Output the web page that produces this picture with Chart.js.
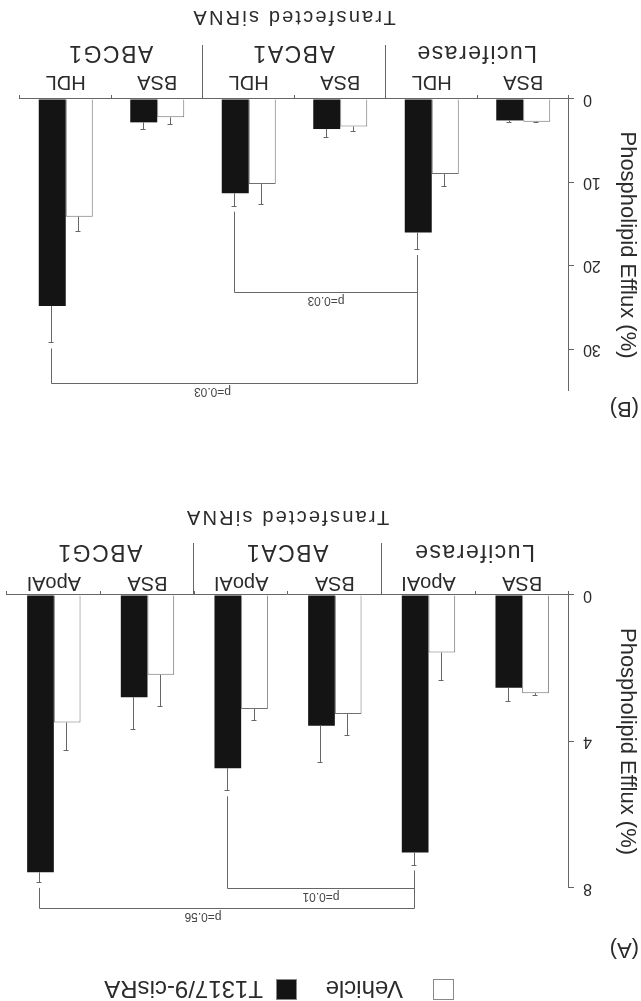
<!DOCTYPE html>
<html>
<head>
<meta charset="utf-8">
<script src="https://cdn.jsdelivr.net/npm/chart.js@4.4.1/dist/chart.umd.min.js"></script>
<style>
  html, body { margin: 0; padding: 0; background: #fff; overflow: hidden; }
  #page {
    position: relative; width: 641px; height: 1001px;
    transform: rotate(180deg);
    font-family: 'Liberation Sans', Arial, sans-serif; color: #2b2b2b;
  }
  #page canvas { position: absolute; left: 0; }
  .key { position: absolute; top: 1px; width: 21px; height: 21px; box-sizing: border-box; border: 1px solid #888; }
  .key-label { position: absolute; top: 0; font-size: 24px; line-height: 24px; white-space: nowrap; }
  .panel-tag { position: absolute; left: 2px; font-size: 22px; line-height: 22px; }
</style>
</head>
<body>
<div id="page">
  <div id="legend"></div>
  <span class="panel-tag" style="top:40px">(A)</span>
  <span class="panel-tag" style="top:581px">(B)</span>
  <canvas id="chartA" width="641" height="440" style="top:60px"></canvas>
  <canvas id="chartB" width="641" height="440" style="top:560px"></canvas>
</div>
<script>
const groups = ['Luciferase', 'ABCA1', 'ABCG1'];
const seriesNames = ['Vehicle', 'T1317/9-cisRA'];
const axisTitle = 'Phospholipid Efflux (%)';
const groupTitle = 'Transfected siRNA';

// panel A: apoAI-mediated efflux
const labelsA = ['BSA', 'ApoAI', 'BSA', 'ApoAI', 'BSA', 'ApoAI'];
const vehicleA = [2.68, 1.57, 3.25, 3.11, 2.18, 3.48];
const vehicleErrA = [0.09, 0.77, 0.61, 0.34, 0.88, 0.77];
const treatedA = [2.53, 7.03, 3.57, 4.73, 2.79, 7.57];
const treatedErrA = [0.38, 0.36, 1.02, 0.63, 0.89, 0.29];
const ticksA = [0, 4, 8];

// panel B: HDL-mediated efflux
const labelsB = ['BSA', 'HDL', 'BSA', 'HDL', 'BSA', 'HDL'];
const vehicleB = [2.72, 9.0, 3.3, 10.2, 2.2, 14.1];
const vehicleErrB = [0.1, 1.6, 0.7, 2.5, 0.9, 1.9];
const treatedB = [2.57, 16.0, 3.6, 11.3, 2.8, 24.8];
const treatedErrB = [0.3, 2.1, 1.1, 1.6, 0.9, 4.5];
const ticksB = [0, 10, 20, 30];

// p-value brackets between treated bars (bar index, bracket height in % units)
const pairsA = [
  { from: 3, to: 1, level: 8.03, text: 'p=0.01' },
  { from: 5, to: 1, level: 8.56, text: 'p=0.56', shift: 24 }
];
const pairsB = [
  { from: 3, to: 1, level: 23.2, text: 'p=0.03' },
  { from: 5, to: 1, level: 34.2, text: 'p=0.03', shift: 22 }
];

const ink = '#2b2b2b';
const lineCol = '#666';
const barBlack = '#141414';
const font = "'Liberation Sans', Arial, sans-serif";
Chart.defaults.font.family = font;
Chart.defaults.color = ink;

// legend
const legend = document.getElementById('legend');
[[187, 238, '#fff'], [344, 378, barBlack]].forEach(([kx, tx, fill], i) => {
  const key = document.createElement('div');
  key.className = 'key';
  key.style.left = kx + 'px';
  key.style.background = fill;
  const lab = document.createElement('span');
  lab.className = 'key-label';
  lab.style.left = tx + 'px';
  lab.textContent = seriesNames[i];
  legend.appendChild(key);
  legend.appendChild(lab);
});

function decor(pairs, lay) {
  return {
    id: 'decor',
    afterDatasetsDraw(chart) {
      const ctx = chart.ctx, y = chart.scales.y;
      ctx.save();
      ctx.strokeStyle = lineCol;
      ctx.lineWidth = 1;
      chart.data.datasets.forEach((ds, d) => {
        chart.getDatasetMeta(d).data.forEach((bar, i) => {
          const x = Math.round(bar.x) + 0.5;
          const top = Math.round(y.getPixelForValue(ds.data[i] + ds.errors[i])) + 0.5;
          ctx.beginPath();
          ctx.moveTo(x, bar.y);
          ctx.lineTo(x, top);
          ctx.moveTo(x - 2, top);
          ctx.lineTo(x + 3, top);
          ctx.stroke();
        });
      });
      ctx.restore();
    },
    afterDraw(chart) {
      const ctx = chart.ctx, xs = chart.scales.x, y = chart.scales.y;
      const area = chart.chartArea;
      const ds = chart.data.datasets[1];
      const bars = chart.getDatasetMeta(1).data;
      ctx.save();
      ctx.strokeStyle = lineCol;
      ctx.lineWidth = 1;

      // separators between siRNA groups
      [1.5, 3.5].forEach(v => {
        const x = Math.round(xs.getPixelForValue(v)) + 0.5;
        ctx.beginPath();
        ctx.moveTo(x, area.bottom);
        ctx.lineTo(x, area.bottom + lay.sep);
        ctx.stroke();
      });

      ctx.fillStyle = ink;
      ctx.textAlign = 'center';
      ctx.textBaseline = 'alphabetic';
      ctx.font = '23px ' + font;
      ctx.letterSpacing = '1.5px';
      groups.forEach((g, k) => {
        ctx.fillText(g, xs.getPixelForValue(2 * k + 0.5) + 1, area.bottom + lay.group);
      });
      ctx.font = '20px ' + font;
      ctx.letterSpacing = '2.2px';
      ctx.fillText(groupTitle, (area.left + area.right) / 2 + 1, area.bottom + lay.title);
      ctx.letterSpacing = '0px';

      // brackets
      ctx.font = '12px ' + font;
      ctx.fillStyle = '#444';
      pairs.forEach(p => {
        const ax = Math.round(bars[p.from].x) + 0.5;
        const bx = Math.round(bars[p.to].x) + 0.5;
        const lvl = Math.round(y.getPixelForValue(p.level)) + 0.5;
        const la = y.getPixelForValue(ds.data[p.from] + ds.errors[p.from]) - 5;
        const lb = y.getPixelForValue(ds.data[p.to] + ds.errors[p.to]) - 5;
        ctx.beginPath();
        ctx.moveTo(ax, la);
        ctx.lineTo(ax, lvl);
        ctx.lineTo(bx, lvl);
        ctx.lineTo(bx, lb);
        ctx.stroke();
        ctx.fillText(p.text, (ax + bx) / 2 + (p.shift || 0), lvl - 5);
      });
      ctx.restore();
    }
  };
}

function panel(id, labels, veh, vehErr, trt, trtErr, ticks, max, pairs, lay) {
  return new Chart(document.getElementById(id), {
    type: 'bar',
    data: {
      labels: labels,
      datasets: [{
        label: seriesNames[0],
        data: veh,
        errors: vehErr,
        backgroundColor: '#fff',
        borderColor: '#707070',
        borderWidth: 1
      }, {
        label: seriesNames[1],
        data: trt,
        errors: trtErr,
        backgroundColor: barBlack,
        borderWidth: 0
      }]
    },
    options: {
      responsive: false,
      animation: false,
      devicePixelRatio: 1,
      layout: { padding: { top: lay.top, right: lay.right, left: 0, bottom: 0 } },
      datasets: { bar: { categoryPercentage: lay.cat, barPercentage: 1 } },
      plugins: { legend: { display: false }, tooltip: { enabled: false } },
      scales: {
        x: {
          grid: { offset: true, drawOnChartArea: false, tickLength: 4, color: lineCol },
          border: { color: lineCol },
          ticks: { font: { size: 20 }, padding: lay.labelPad, color: ink },
          afterFit: s => { s.height = lay.xh; }
        },
        y: {
          min: 0,
          max: max,
          grid: { drawOnChartArea: false, tickLength: 5, color: lineCol },
          border: { color: lineCol },
          ticks: { font: { size: 16 }, padding: 9, color: ink, includeBounds: false },
          afterBuildTicks: s => { s.ticks = ticks.map(v => ({ value: v })); },
          title: { display: true, text: axisTitle, font: { size: 22 }, padding: { top: 1, bottom: 0 }, color: ink },
          afterFit: s => { s.width = 72; }
        }
      }
    },
    plugins: [decor(pairs, lay)]
  });
}

panel('chartA', labelsA, vehicleA, vehicleErrA, treatedA, treatedErrA, ticksA, 8, pairsA,
  { top: 53, right: 7, xh: 94, cat: 0.57, labelPad: -4, sep: 52, group: 50, title: 84 });
panel('chartB', labelsB, vehicleB, vehicleErrB, treatedB, treatedErrB, ticksB, 35, pairsB,
  { top: 50, right: 20, xh: 98, cat: 0.59, labelPad: 1, sep: 54, group: 53, title: 88 });
</script>
</body>
</html>
